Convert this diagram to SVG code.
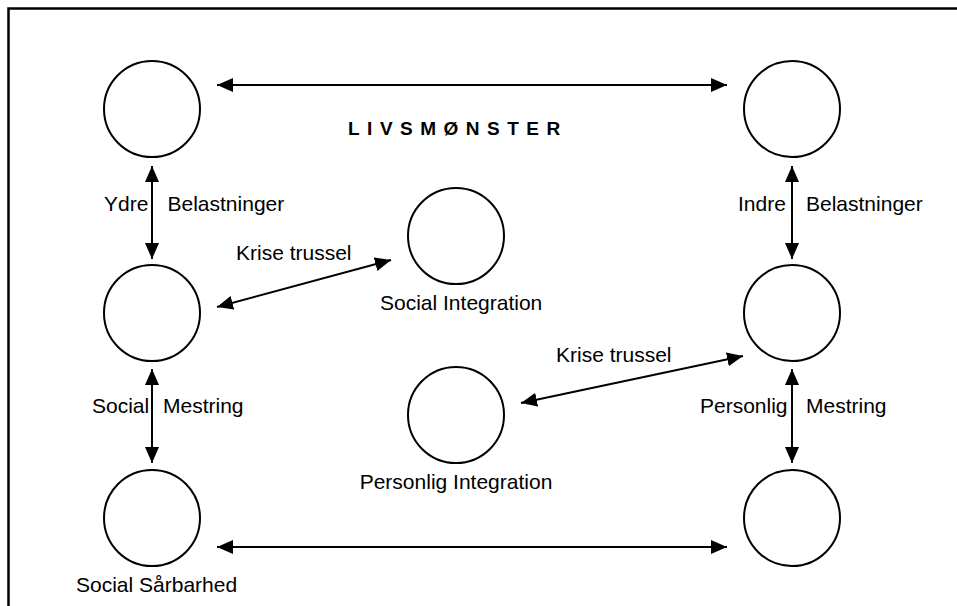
<svg xmlns="http://www.w3.org/2000/svg" width="957" height="606" viewBox="0 0 957 606">
  <style>
    .frame { fill: none; stroke: #000; stroke-width: 2.5; }
    .node { fill: #fff; stroke: #000; stroke-width: 2; }
    .link { fill: none; stroke: #000; stroke-width: 2; marker-start: url(#head); marker-end: url(#head); }
    .lbl { font-family: "Liberation Sans", Arial, sans-serif; font-size: 21px; fill: #000; }
    .title { font-family: "Liberation Sans", Arial, sans-serif; font-size: 19px; font-weight: bold; letter-spacing: 7.5px; fill: #000; }
  </style>
  <defs>
    <marker id="head" markerUnits="userSpaceOnUse" markerWidth="16" markerHeight="14" refX="16" refY="7" orient="auto-start-reverse">
      <path d="M0,0 L16,7 L0,14 Z" fill="#000"/>
    </marker>
  </defs>
  <rect width="957" height="606" fill="#fff"/>
  <path class="frame" d="M8.5,606 V8.5 H957"/>

  <!-- connectors -->
  <g id="connectors">
    <line class="link" x1="217" y1="85" x2="727" y2="85"/>
    <line class="link" x1="152" y1="166" x2="152" y2="259"/>
    <line class="link" x1="152" y1="369" x2="152" y2="463"/>
    <line class="link" x1="792" y1="166" x2="792" y2="259"/>
    <line class="link" x1="792" y1="369" x2="792" y2="463"/>
    <line class="link" x1="217" y1="547" x2="727" y2="547"/>
    <line class="link" x1="217" y1="307" x2="391" y2="260"/>
    <line class="link" x1="521" y1="403" x2="743" y2="356"/>
  </g>

  <!-- nodes -->
  <g id="top-left"><circle class="node" cx="152" cy="109" r="48"/></g>
  <g id="top-right"><circle class="node" cx="792" cy="109" r="48"/></g>
  <g id="mid-left"><circle class="node" cx="152" cy="313" r="48"/></g>
  <g id="mid-right"><circle class="node" cx="792" cy="313" r="48"/></g>
  <g id="social-saarbarhed">
    <circle class="node" cx="152" cy="518" r="48"/>
    <text class="lbl" x="76" y="592">Social Sårbarhed</text>
  </g>
  <g id="bottom-right"><circle class="node" cx="792" cy="518" r="48"/></g>
  <g id="social-integration">
    <circle class="node" cx="456" cy="236" r="48"/>
    <text class="lbl" x="380" y="310">Social Integration</text>
  </g>
  <g id="personlig-integration">
    <circle class="node" cx="456" cy="415" r="48"/>
    <text class="lbl" x="456" y="489" text-anchor="middle">Personlig Integration</text>
  </g>

  <!-- connector labels -->
  <g id="labels">
    <text class="title" x="348" y="135">LIVSMØNSTER</text>
    <text class="lbl" x="104" y="211">Ydre</text>
    <text class="lbl" x="167.5" y="211">Belastninger</text>
    <text class="lbl" x="738" y="211">Indre</text>
    <text class="lbl" x="806" y="211">Belastninger</text>
    <text class="lbl" x="236" y="260">Krise trussel</text>
    <text class="lbl" x="556" y="362">Krise trussel</text>
    <text class="lbl" x="92" y="413">Social</text>
    <text class="lbl" x="163" y="413">Mestring</text>
    <text class="lbl" x="700" y="413">Personlig</text>
    <text class="lbl" x="806" y="413">Mestring</text>
  </g>
</svg>
